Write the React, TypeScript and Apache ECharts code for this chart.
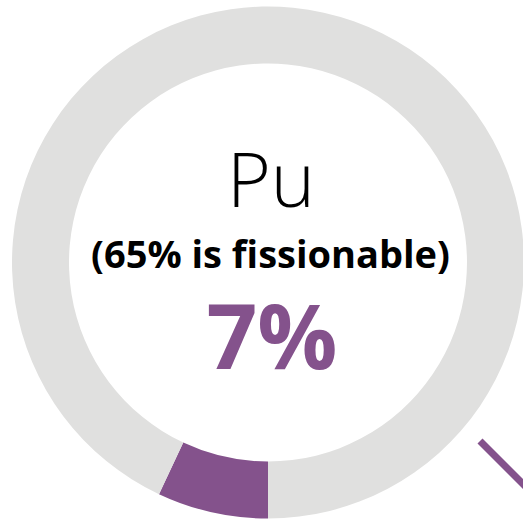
import React, { useEffect, useRef } from "react";
import * as echarts from "echarts";

const categories = ["Pu", "Other"];
const values = [7, 93];
const colors = ["#84528c", "#e0e0df"];
const titleText = "Pu";
const subtitleText = "(65% is fissionable)";
const valueText = "7%";

export default function App() {
  const ref = useRef<HTMLDivElement>(null);
  useEffect(() => {
    if (!ref.current) return;
    const chart = echarts.init(ref.current, null, { renderer: "svg" });
    chart.setOption({
      animation: false,
      backgroundColor: "#ffffff",
      series: [
        {
          type: "pie",
          center: [268, 262.5],
          radius: [199, 256],
          startAngle: 270,
          clockwise: true,
          silent: true,
          label: { show: false },
          labelLine: { show: false },
          itemStyle: { borderWidth: 0 },
          data: categories.map((c, i) => ({
            name: c,
            value: values[i],
            itemStyle: { color: colors[i] },
          })),
        },
      ],
      graphic: [
        {
          type: "line",
          shape: { x1: 480, y1: 441, x2: 540, y2: 501 },
          style: { stroke: "#84528c", lineWidth: 7 },
        },
        {
          type: "text",
          x: 271,
          y: 215,
          style: {
            text: titleText,
            textAlign: "center",
            textVerticalAlign: "bottom",
            fontFamily: "Open Sans",
            fontWeight: 300,
            fontSize: 75,
            fill: "#000000",
          },
        },
        {
          type: "text",
          x: 270.5,
          y: 253,
          style: {
            text: subtitleText,
            textAlign: "center",
            textVerticalAlign: "middle",
            fontFamily: "Open Sans",
            fontWeight: "bold",
            fontSize: 38,
            fill: "#000000",
          },
        },
        {
          type: "text",
          x: 272,
          y: 334,
          style: {
            text: valueText,
            textAlign: "center",
            textVerticalAlign: "middle",
            fontFamily: "Open Sans",
            fontWeight: "bold",
            fontSize: 89,
            fill: "#84528c",
          },
        },
      ],
    });
    return () => chart.dispose();
  }, []);
  return (
    <div
      ref={ref}
      style={{ position: "fixed", left: 0, top: 0, width: 523, height: 524 }}
    />
  );
}
